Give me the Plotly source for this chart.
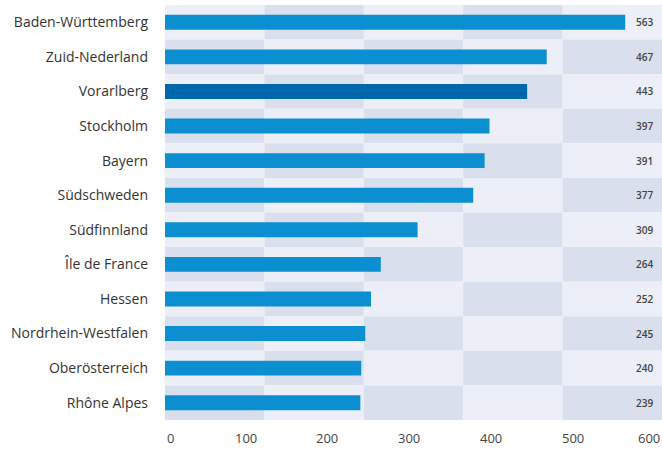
import plotly.graph_objects as go

# Regional values, top to bottom
regions = [
    "Baden-Württemberg", "Zuid-Nederland", "Vorarlberg", "Stockholm", "Bayern",
    "Südschweden", "Südfinnland", "Île de France", "Hessen",
    "Nordrhein-Westfalen", "Oberösterreich", "Rhône Alpes",
]
values = [563, 467, 443, 397, 391, 377, 309, 264, 252, 245, 240, 239]
highlight = "Vorarlberg"
x_ticks = [0, 100, 200, 300, 400, 500, 600]

BAR = "#0B8FD1"
BAR_HI = "#0067AC"
LIGHT = "#ECEFF8"
DARK = "#D9DFEC"

colors = [BAR_HI if r == highlight else BAR for r in regions]

fig = go.Figure()
fig.add_trace(go.Bar(
    y=regions, x=values, orientation="h",
    marker=dict(color=colors, line=dict(width=0)),
    width=0.43, hoverinfo="x+y",
))

# Checkerboard background: 5 columns x one row per region
n_rows = len(regions)
n_cols = 5
shapes = []
for r in range(n_rows):
    for c in range(n_cols):
        shapes.append(dict(
            type="rect", layer="below", line=dict(width=0),
            xref="x domain", yref="y domain",
            x0=c / n_cols, x1=(c + 1) / n_cols,
            y0=1 - (r + 1) / n_rows, y1=1 - r / n_rows,
            fillcolor=DARK if (r + c) % 2 else LIGHT,
        ))

# Value labels at the right edge
annotations = [
    dict(x=600, y=reg, xref="x", yref="y", text=str(v), showarrow=False,
         xanchor="right", yanchor="middle",
         font=dict(size=10, color="#444444", family="Open Sans", weight=600))
    for reg, v in zip(regions, values)
]

# X tick labels; the outermost ones are nudged inward to stay on the page
for i, t in enumerate(x_ticks):
    nudge = 5 if i == 0 else (-6 if i == len(x_ticks) - 1 else -1)
    annotations.append(dict(
        x=t, y=0, xref="x", yref="paper", yshift=-18, xshift=nudge,
        text=str(t), showarrow=False, xanchor="center", yanchor="middle",
        font=dict(size=13, color="#444444", family="Open Sans"),
    ))

fig.update_layout(
    width=662, height=450,
    margin=dict(l=165, r=0, t=5, b=30),
    paper_bgcolor="white", plot_bgcolor="white",
    showlegend=False,
    shapes=shapes, annotations=annotations,
    font=dict(family="Open Sans", color="#333333"),
    xaxis=dict(
        range=[0, 608], tickvals=x_ticks, showgrid=False, zeroline=False,
        showline=False, ticks="", showticklabels=False,
    ),
    yaxis=dict(
        categoryorder="array", categoryarray=regions,
        range=[n_rows - 0.5, -0.5], showgrid=False, zeroline=False,
        showline=False, ticks="", ticklabelstandoff=16,
        tickfont=dict(size=14, color="#333333", weight=500),
    ),
)

fig.write_html("out.html")
